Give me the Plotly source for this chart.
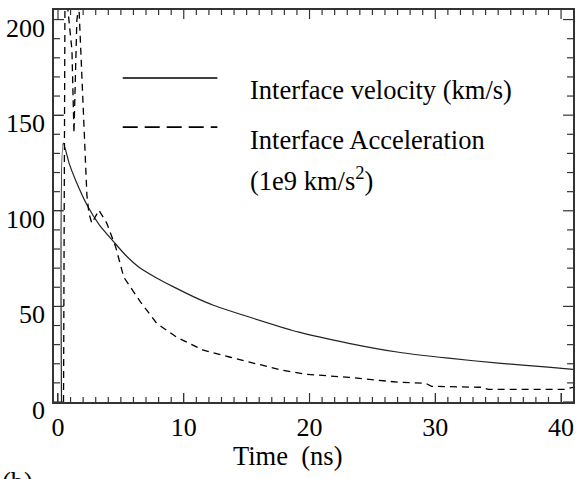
import plotly.graph_objects as go

# Interface velocity (km/s)
vel_t = [0.28, 0.42, 0.9, 1.40, 2.32, 3.3, 4.44, 5.4, 6.42, 7.8, 9.19, 10.8, 12.36, 15.52, 19.17, 23.13, 27.09, 31.05, 35.01, 38.97, 40.95]
vel_v = [0.0, 135.4, 124.5, 116.0, 102.9, 92.5, 83.7, 76.6, 70.6, 65.0, 60.2, 55.0, 50.6, 43.8, 36.5, 30.7, 26.0, 22.9, 20.3, 18.2, 17.1]

# Interface acceleration (1e9 km/s^2)
acc_t = [0.44, 0.56, 0.79, 1.11, 1.27, 1.50, 1.66, 2.30, 2.46, 2.69, 3.25, 3.88, 4.59, 5.23, 6.57,
         7.84, 9.43, 11.56, 13.70, 15.52, 17.82, 19.72, 23.13, 27.09, 29.23, 29.70, 33.66, 34.22, 40.32, 40.95]
acc_a = [0.0, 220.0, 205.0, 184.0, 140.6, 199.7, 207.6, 108.1, 98.7, 93.5, 100.3, 93.5, 81.0, 65.3, 52.2,
         41.2, 33.9, 27.1, 23.4, 20.3, 16.6, 14.5, 12.9, 10.3, 9.8, 8.2, 7.7, 6.6, 6.6, 7.7]

# Tick positions
x_major = [0, 10, 20, 30, 40]
x_minor = [v for v in range(0, 41) if v % 10 != 0]
y_major = [0, 50, 100, 150, 200]
y_minor = [v for v in range(0, 201, 10) if v % 50 != 0]

X_RANGE = [-0.317, 40.95]
Y_RANGE = [0, 205]
FONT = "Liberation Serif"
TICKC = "#333333"

fig = go.Figure()
fig.add_trace(go.Scatter(x=vel_t, y=vel_v, mode="lines", line_shape="spline",
                         line=dict(color="#222222", width=1.2, smoothing=0.6), showlegend=False))
fig.add_trace(go.Scatter(x=acc_t, y=acc_a, mode="lines",
                         line=dict(color="#000000", width=1.3, dash="7px,5px"), showlegend=False))

# inside tick marks on all four sides, built from the tick lists (lengths in px converted to axis units)
plot_w, plot_h = 578 - 54 - 3, 479 - 10 - 77.3
ux = (X_RANGE[1] - X_RANGE[0]) / plot_w   # x units per px
uy = (Y_RANGE[1] - Y_RANGE[0]) / plot_h   # y units per px
tx, ty = [], []
for vals, L in ((x_major, 9), (x_minor, 5)):
    for v in vals:
        tx += [v, v, None, v, v, None]
        ty += [Y_RANGE[0], Y_RANGE[0] + L * uy, None, Y_RANGE[1], Y_RANGE[1] - L * uy, None]
for vals, L in ((y_major, 10), (y_minor, 6)):
    for v in vals:
        tx += [X_RANGE[0], X_RANGE[0] + L * ux, None, X_RANGE[1], X_RANGE[1] - L * ux, None]
        ty += [v, v, None, v, v, None]
fig.add_trace(go.Scatter(x=tx, y=ty, mode="lines", line=dict(color=TICKC, width=1.2),
                         hoverinfo="skip", showlegend=False))

axis_common = dict(showline=True, linecolor=TICKC, linewidth=1.5, mirror=True,
                   ticks="inside", ticklen=9, tickwidth=1.2, tickcolor=TICKC,
                   showgrid=False, zeroline=False, tickmode="array",
                   tickfont=dict(family=FONT, size=26, color="black"))

fig.update_xaxes(range=X_RANGE, tickvals=x_major, ticktext=[str(v) for v in x_major],
                 ticklabelstandoff=1, **axis_common)
fig.update_yaxes(range=Y_RANGE, tickvals=y_major, ticktext=[str(v) for v in y_major],
                 ticklabelshift=8, ticklabelstandoff=2, **axis_common)

# legend samples
fig.add_shape(type="line", xref="paper", yref="paper", x0=0.1324, x1=0.3148, y0=0.8264, y1=0.8264,
              line=dict(color="black", width=1.6))
fig.add_shape(type="line", xref="paper", yref="paper", x0=0.1324, x1=0.3148, y0=0.7013, y1=0.7013,
              line=dict(color="black", width=1.6, dash="15px,7px"))

ann_font = dict(family=FONT, size=26.5, color="black")
fig.add_annotation(text="Interface velocity (km/s)", xref="paper", yref="paper", x=0.3743, y=0.7958,
                   xanchor="left", yanchor="middle", showarrow=False, font=ann_font)
fig.add_annotation(text="Interface Acceleration", xref="paper", yref="paper", x=0.3743, y=0.6682,
                   xanchor="left", yanchor="middle", showarrow=False, font=ann_font)
fig.add_annotation(text="(1e9 km/s<sup>2</sup>)", xref="paper", yref="paper", x=0.3743, y=0.568,
                   xanchor="left", yanchor="middle", showarrow=False, font=ann_font)
fig.add_annotation(text="Time  (ns)", xref="paper", yref="paper", x=(288 - 54) / 521, y=(401.7 - 456) / 391.7,
                   xanchor="center", yanchor="middle", showarrow=False, font=ann_font)
fig.add_annotation(text="(b)", xref="paper", yref="paper", x=(0 - 54) / 521, y=(401.7 - 465) / 391.7,
                   xanchor="left", yanchor="top", showarrow=False, font=ann_font)

fig.update_layout(width=578, height=479, margin=dict(l=54, r=3, t=10, b=77.3),
                  paper_bgcolor="white", plot_bgcolor="white")

fig.write_html("out.html")
